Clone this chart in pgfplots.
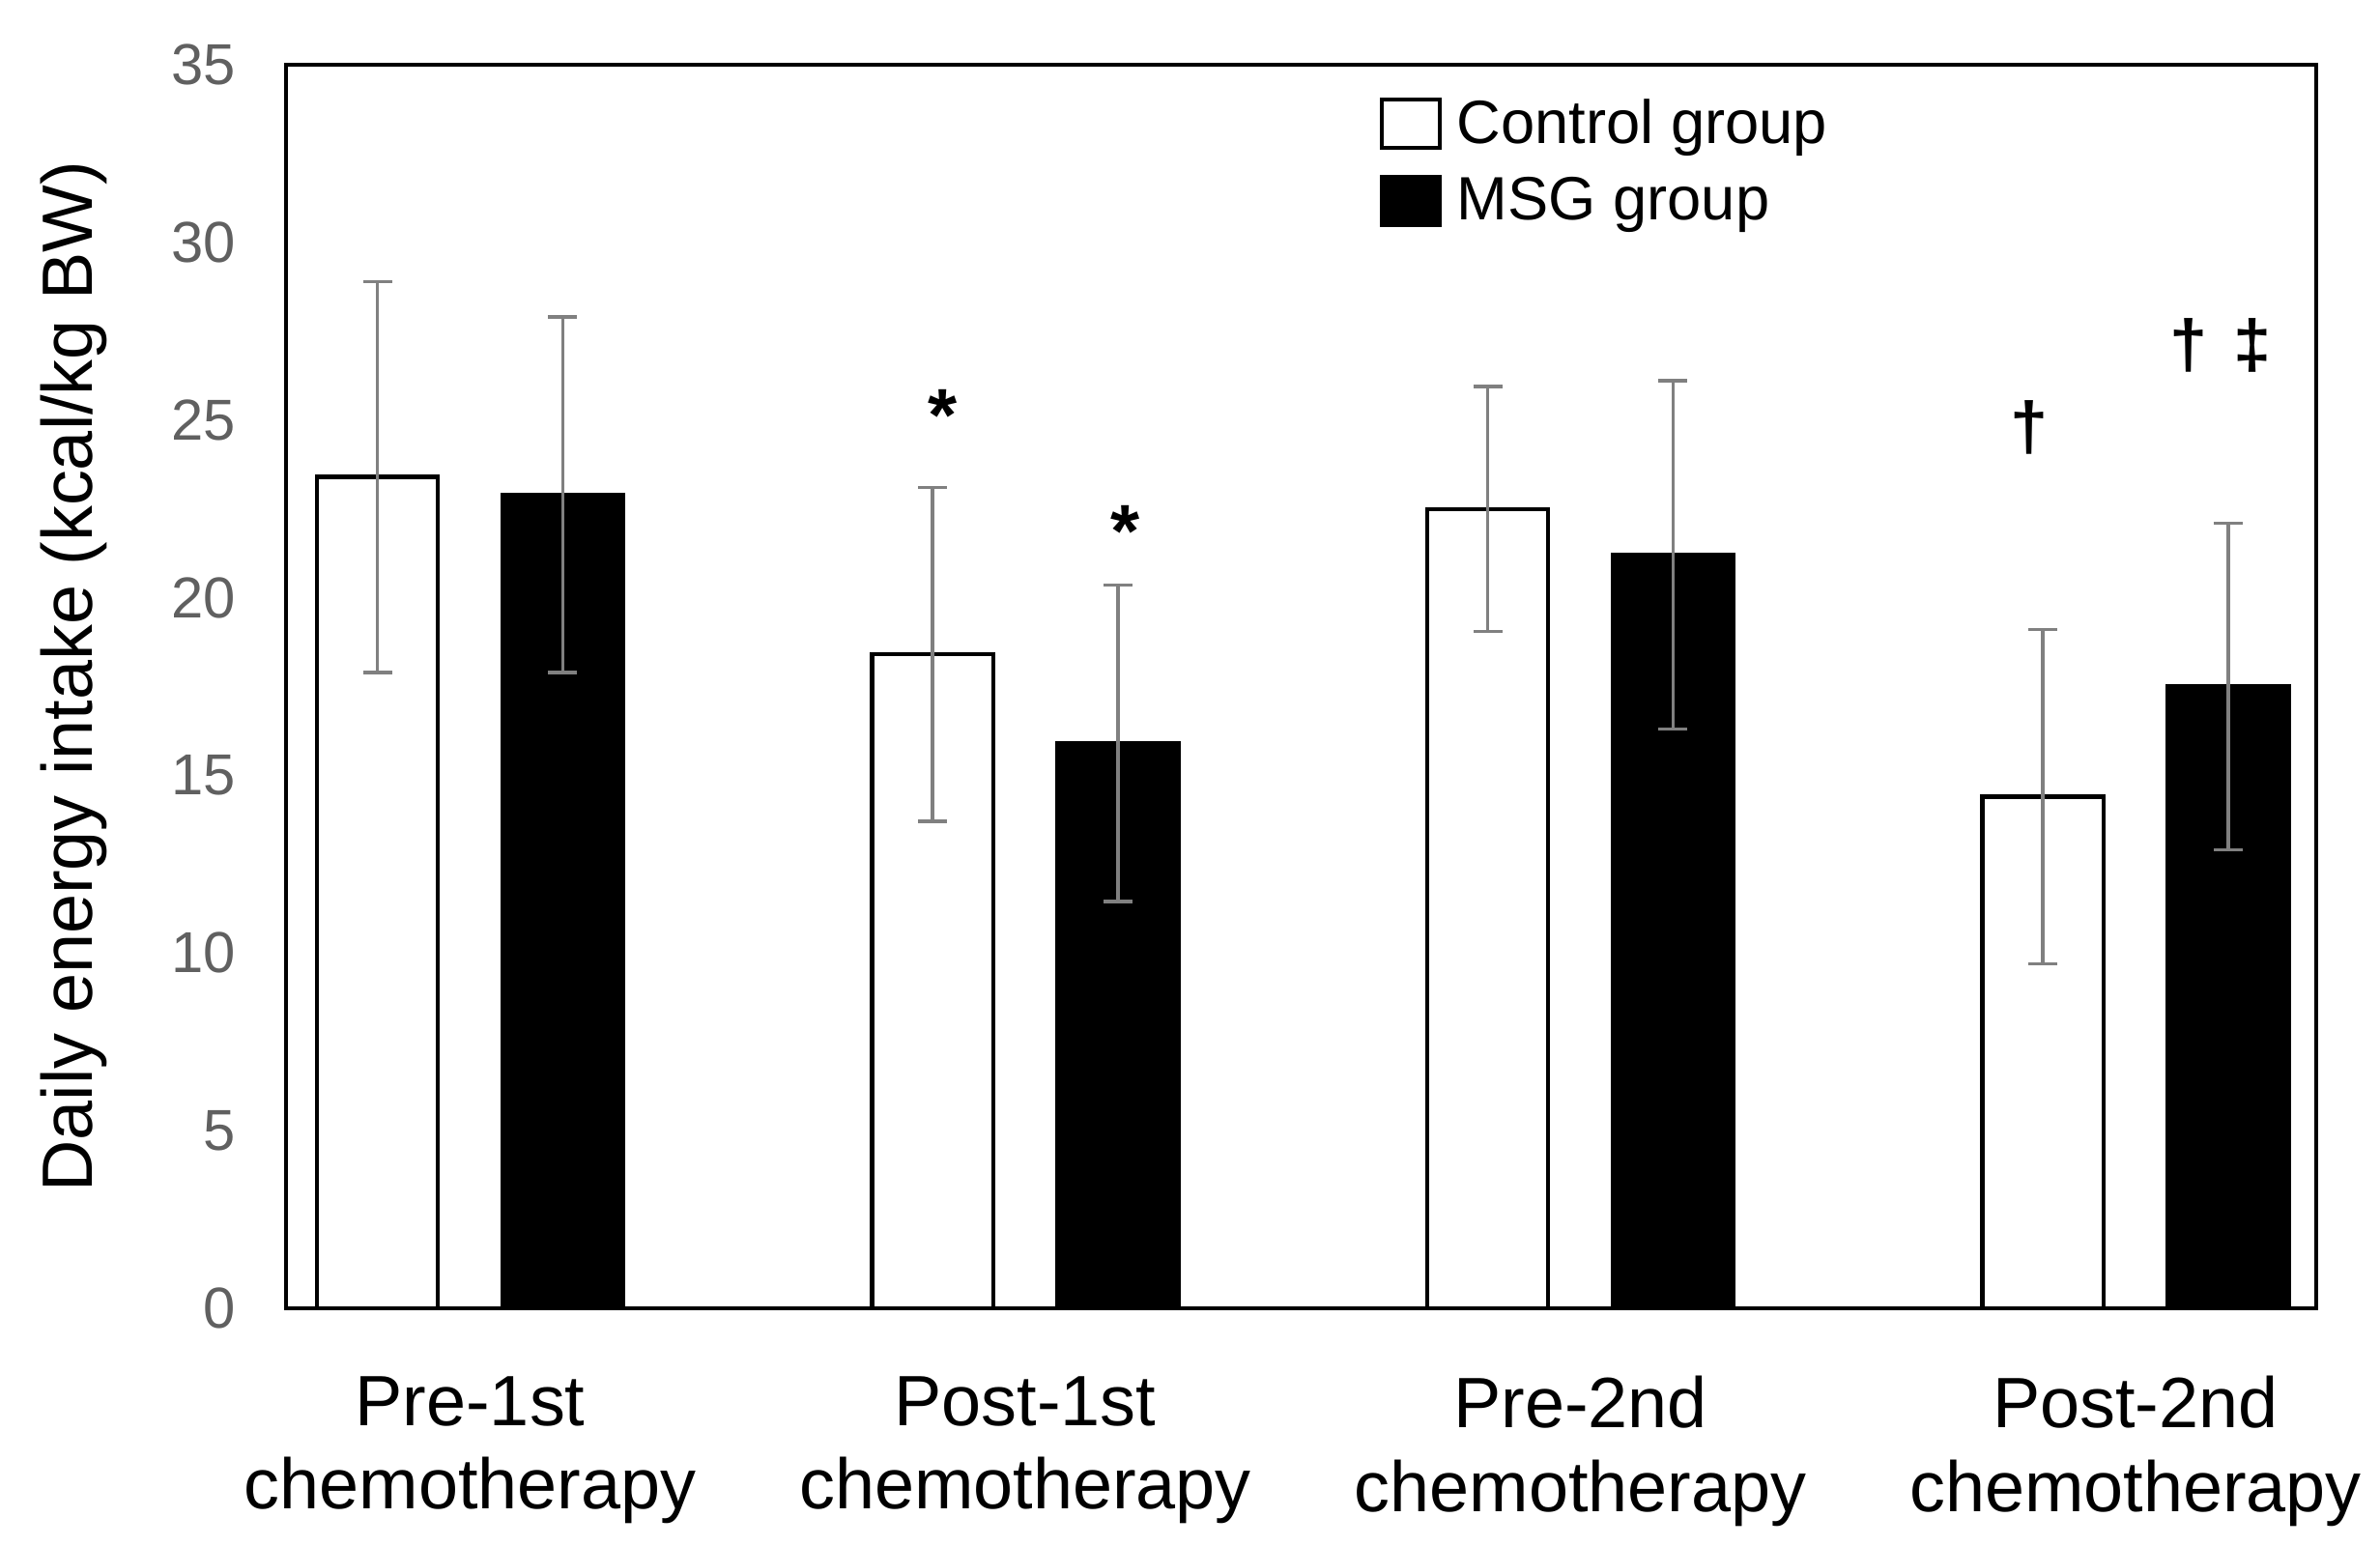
\documentclass[border=0pt]{standalone}
\usepackage{pgfplots}
\usepackage{pgfplotstable}
\pgfplotsset{compat=1.18}
\usepackage{fontspec}
\setmainfont{Liberation Sans}
\definecolor{tickgray}{RGB}{96,96,96}
\definecolor{errgray}{RGB}{128,128,128}
\pgfplotstableread{
x y e
0 23.4 5.5
1 18.4 4.7
2 22.5 3.45
3 14.4 4.7
}\control
\pgfplotstableread{
x y e
0 22.9 5.0
1 15.9 4.45
2 21.2 4.9
3 17.5 4.6
}\msg
\begin{document}
\begin{tikzpicture}
\begin{axis}[
  scale only axis, width=21.01cm, height=12.87cm,
  xmin=-0.3316, xmax=3.3255, ymin=0, ymax=35,
  ytick={0,5,...,35}, xtick={0,1,2,3},
  xticklabels={{Pre-1st\\chemotherapy},{Post-1st\\chemotherapy},{Pre-2nd\\chemotherapy},{Post-2nd\\chemotherapy}},
  major tick length=0pt,
  axis line style={line width=1.2pt},
  /pgf/number format/assume math mode=true,
  yticklabel style={font=\fontsize{17}{20}\selectfont, text=tickgray, xshift=-0.4cm},
  xticklabel style={font=\fontsize{21}{24.7}\selectfont, align=center, yshift=-0.58cm},
  ylabel={Daily energy intake (kcal/kg BW)},
  ylabel style={font=\fontsize{21}{24}\selectfont, at={(axis description cs:-0.1044,0.508)}, anchor=center},
  ybar, bar width=0.218,
  legend style={at={(axis description cs:0.5386,0.980)}, anchor=north west, draw=none, fill=none,
    inner sep=0pt, outer sep=0pt, row sep=0.095cm, font=\fontsize{18}{21}\selectfont,
    nodes={inner sep=0.1cm}},
  legend cell align=left,
  error bars/y dir=both, error bars/y explicit,
  error bars/error bar style={errgray, line width=1pt},
  error bars/error mark options={errgray, mark size=0.15cm, line width=1pt, rotate=90},
]
\addplot[ybar, bar shift=-0.167, draw=black, line width=1.2pt, fill=white,
  legend image code/.code={\draw[black, line width=1.2pt, fill=white] (0cm,-0.25cm) rectangle (0.6cm,0.25cm); \path (0.66cm,0);}]
  table[x=x, y=y, y error=e] {\control};
\addlegendentry{Control group}
\addplot[ybar, bar shift=0.167, draw=black, line width=1.2pt, fill=black,
  legend image code/.code={\draw[black, line width=1.2pt, fill=black] (0cm,-0.25cm) rectangle (0.6cm,0.25cm); \path (0.66cm,0);}]
  table[x=x, y=y, y error=e] {\msg};
\addlegendentry{MSG group}
\node[font=\fontsize{22}{24}\selectfont\bfseries] at (axis cs:0.851,25.12) {*};
\node[font=\fontsize{22}{24}\selectfont\bfseries] at (axis cs:1.180,21.88) {*};
\node[font=\fontsize{20}{24}\selectfont\bfseries] at (axis cs:2.808,24.8) {†};
\node[font=\fontsize{20}{24}\selectfont\bfseries] at (axis cs:3.095,27.1) {†};
\node[font=\fontsize{20}{24}\selectfont\bfseries] at (axis cs:3.210,27.1) {‡};
\end{axis}
\pgfresetboundingbox
\path[use as bounding box] ([shift={(-2.96cm,-2.46cm)}]current axis.south west) rectangle ([shift={(0.66cm,0.67cm)}]current axis.north east);
\end{tikzpicture}
\end{document}
